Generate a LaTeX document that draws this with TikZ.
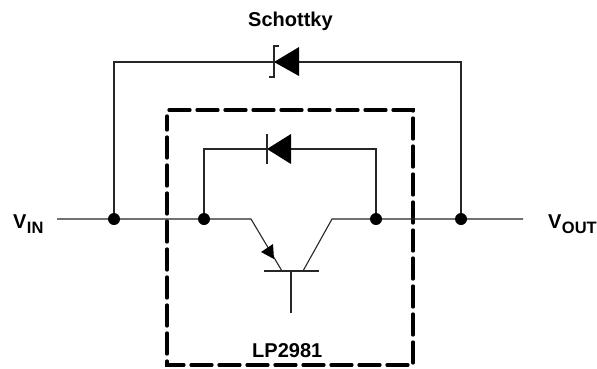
\documentclass[tikz,border=0pt]{standalone}
\usepackage{fontspec}
\setmainfont{Liberation Sans}
\tikzset{
  wire/.style={line width=1.1pt,black!85},
  dot/.style={circle,fill=black,inner sep=0pt,minimum size=12pt},
  lbl/.style={font=\bfseries\fontsize{20}{22}\selectfont,inner sep=0pt,text=black},
  subl/.style={font=\bfseries\fontsize{16.5}{18}\selectfont,inner sep=0pt,text=black},
  solidtri/.style={fill=black,draw=none},
  boundary/.style={line width=3.3pt,dash pattern=on 21pt off 7pt,line cap=round,black}
}
\begin{document}
\begin{tikzpicture}[x=1pt,y=-1pt]
\useasboundingbox (0,0) rectangle (597,368);
\fill[white] (0,0) rectangle (597,368);
% junctions and wire ends
\coordinate (inEnd) at (57,219);
\coordinate (outEnd) at (523,219);
\node[dot] (j1) at (114,219) {};
\node[dot] (j2) at (204,219) {};
\node[dot] (j3) at (376,219) {};
\node[dot] (j4) at (461,219) {};
\coordinate (tl) at (114,62);
\coordinate (tr) at (461,62);
\coordinate (il) at (204,149);
\coordinate (ir) at (376,149);
\coordinate (ec) at (251,219);
\coordinate (cc) at (332,219);
\coordinate (eb) at (282,271);
\coordinate (cb) at (303,271);
\coordinate (bl) at (264,271);
\coordinate (br) at (319,271);
\coordinate (bt) at (291,271);
\coordinate (bb) at (291,313);
% dashed LP2981 boundary
\draw[boundary] (169,110) -- (413,110) -- (413,365) -- (167,365) -- (167,116);
% wires
\draw[wire] (inEnd) -- (j1) -- (j2) -- (ec) -- (eb);
\draw[wire] (outEnd) -- (j4) -- (j3) -- (cc) -- (cb);
\draw[wire] (bl) -- (br);
\draw[wire] (bt) -- (bb);
\draw[wire] (j1) -- (tl) -- (tr) -- (j4);
\draw[wire] (j2) -- (il) -- (ir) -- (j3);
% inner diode
\fill[solidtri] (267,149) -- (291,134) -- (291,164) -- cycle;
\draw[wire] (267,134) -- (267,164);
% Schottky diode
\fill[solidtri] (274,62) -- (299,47) -- (299,76) -- cycle;
\draw[wire] (279,46) -- (274,46) -- (274,77) -- (269,77);
% transistor arrow
\fill[solidtri] (261,252) -- (273,244) -- (274,259) -- cycle;
% labels
\node[lbl,anchor=base west] (schottky) at (248,26) {Schottky};
\node[lbl,anchor=base west] (lp) at (252,357) {LP2981};
\node[lbl,anchor=base west] (vin) at (13,228) {V};
\node[subl,anchor=base west] (vinsub) at (vin.base east) [yshift=-5pt] {IN};
\node[lbl,anchor=base west] (vout) at (548,228) {V};
\node[subl,anchor=base west] (voutsub) at (vout.base east) [yshift=-5pt] {OUT};
\end{tikzpicture}
\end{document}
